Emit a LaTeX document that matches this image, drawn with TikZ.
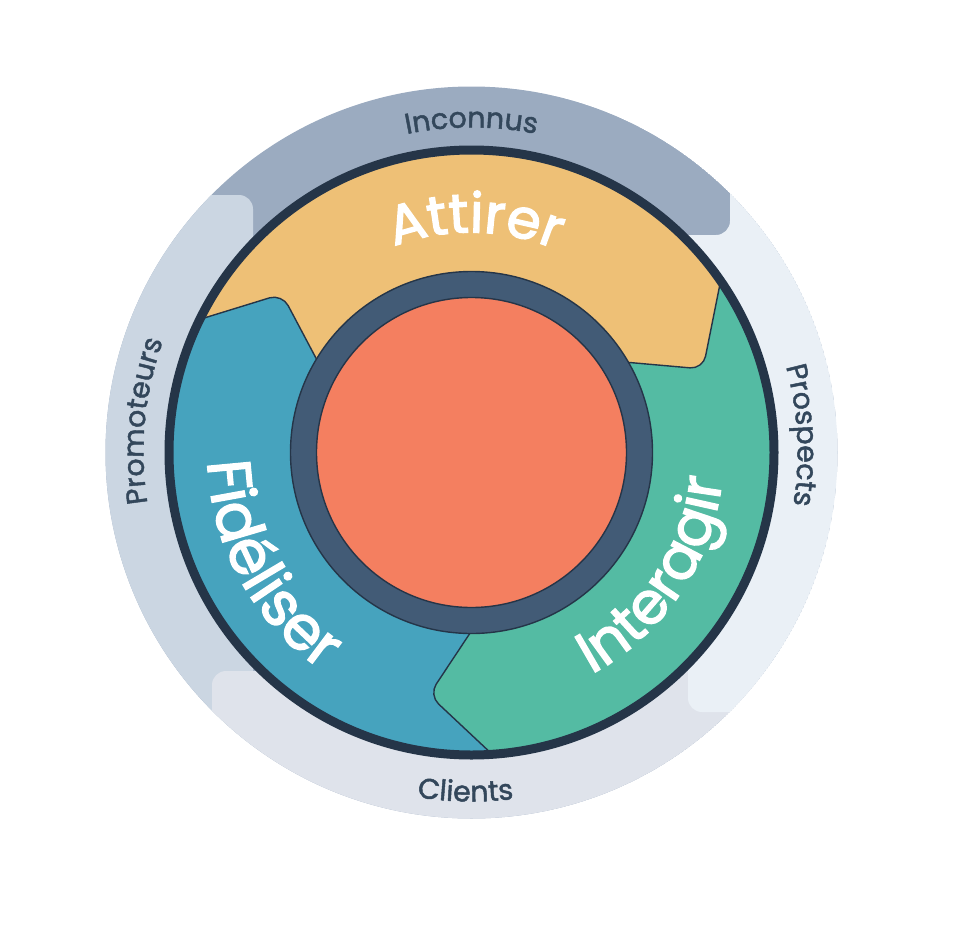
\documentclass[tikz,border=0pt]{standalone}
\usepackage{fontspec}
\setmainfont{Lato}
\newfontfamily\bandfam[FakeBold=1.6]{Poppins}
\newfontfamily\wedgefam[FakeBold=2.4]{Poppins}
\usetikzlibrary{decorations.text}

\definecolor{inconnusblue}{HTML}{9BABC0}
\definecolor{promoteursblue}{HTML}{CBD6E2}
\definecolor{clientsblue}{HTML}{DFE3EB}
\definecolor{prospectsblue}{HTML}{EAF0F6}
\definecolor{ringdark}{HTML}{253548}
\definecolor{ringslate}{HTML}{425B76}
\definecolor{labelink}{HTML}{33475B}
\definecolor{hubcoral}{HTML}{F47F60}
\definecolor{attirergold}{HTML}{EEC076}
\definecolor{interagirteal}{HTML}{54BBA3}
\definecolor{fideliserblue}{HTML}{46A3BE}

\newcommand{\bandfont}{\bandfam\fontsize{28.5}{29}\selectfont}

\tikzset{
  bandlabel/.style={decorate,decoration={text along path,text align=center,
    text color=labelink,text={|\bandfont|#1}}},
  wedgelabel/.style 2 args={decorate,decoration={text along path,text align=center,
    text color=white,text={|\wedgefam\fontsize{#1}{#1}\selectfont|#2}}},
  wedgeedge/.style={draw=ringdark,line width=1.4pt,rounded corners=13pt}
}

\begin{document}
\begin{tikzpicture}[x=1pt,y=-1pt]
\useasboundingbox (0,0) rectangle (978,932);
\coordinate (hub) at (471.5,452.5);

% outer band
\begin{scope}
\clip (hub) circle [radius=366];
\fill[inconnusblue] (hub) circle [radius=366];
\fill[promoteursblue,rounded corners=14pt] (40,195) -- (253,195) -- (253,760) -- (40,760) -- cycle;
\fill[clientsblue,rounded corners=14pt] (212,671) -- (760,671) -- (760,860) -- (212,860) -- cycle;
\fill[prospectsblue,rounded corners=14pt] (688,712) -- (688,400) -- (650,235) -- (730,235)
  -- (730,140) -- (900,140) -- (900,712) -- cycle;
\end{scope}

% wedges
\begin{scope}
\clip (hub) circle [radius=300];
\fill[fideliserblue] (hub) circle [radius=300];
\filldraw[fill=interagirteal,wedgeedge] (hub) -- (490,603) -- (429,695) -- (510,771)
  -- (520,860) -- (900,860) -- (900,100) -- cycle;
\filldraw[fill=attirergold,wedgeedge] (hub) -- (590,359) -- (703,369) -- (725,259)
  -- (800,40) -- (100,40) -- (175,327) -- (282,294) -- (335,394) -- cycle;
\end{scope}

% rings
\draw[ringdark,line width=9pt] (hub) circle [radius=302.5];
\filldraw[fill=ringslate,draw=ringdark,line width=1.4pt] (hub) circle [radius=181];
\filldraw[fill=hubcoral,draw=ringdark,line width=1.4pt] (hub) circle [radius=155];

% labels
\path[bandlabel=Inconnus] ([shift={(hub)}]220:325) arc [start angle=220,end angle=320,radius=325];
\path[bandlabel=Promoteurs] ([shift={(hub)}]135.5:328) arc [start angle=135.5,end angle=235.5,radius=328];
\path[bandlabel=Prospects] ([shift={(hub)}]-53:326) arc [start angle=-53,end angle=47,radius=326];
\path[bandlabel=Clients] ([shift={(hub)}]141:349) arc [start angle=141,end angle=41,radius=349];
\path[wedgelabel={55}{Attirer}] ([shift={(hub)}]221:220) arc [start angle=221,end angle=321,radius=220];
\path[wedgelabel={58}{Interagir}] ([shift={(hub)}]78.8:252) arc [start angle=78.8,end angle=-11.2,radius=252];
\path[wedgelabel={61}{Fidéliser}] ([shift={(hub)}]196.2:264) arc [start angle=196.2,end angle=106.2,radius=264];
\end{tikzpicture}
\end{document}
